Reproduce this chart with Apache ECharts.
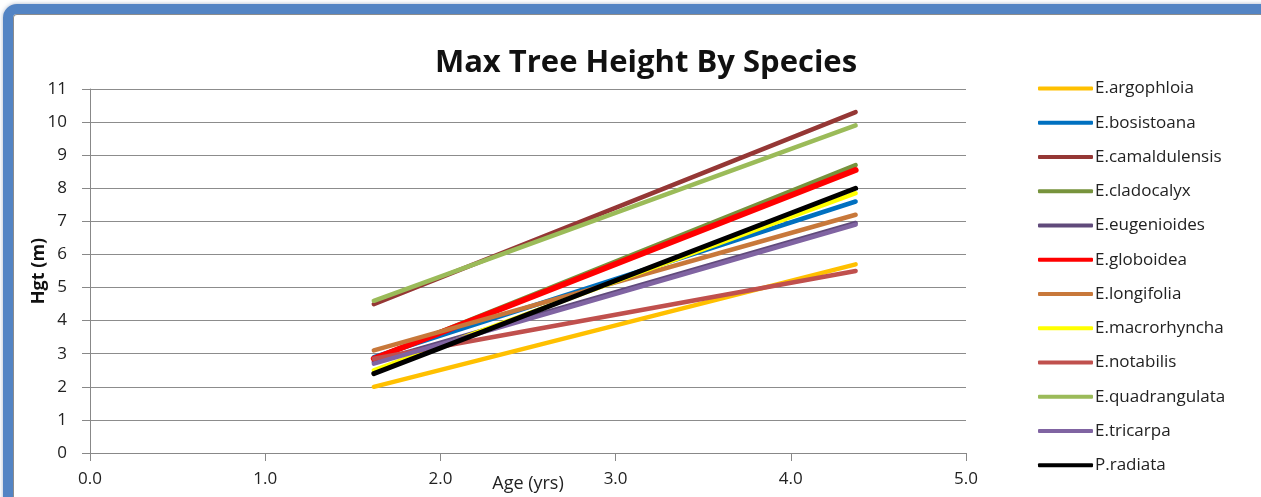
<!DOCTYPE html>
<html>
<head>
<meta charset="utf-8">
<script src="https://cdn.jsdelivr.net/npm/echarts@6/dist/echarts.min.js"></script>
<style>
  html, body { margin: 0; padding: 0; background: #ffffff; overflow: hidden; }
  #frame {
    position: absolute; left: 3px; top: 4px; width: 1320px; height: 620px;
    border: 10px solid #5384c4; border-radius: 14px; background: #ffffff;
    box-shadow: inset 0 0 0 1px #8c8c8c, 0 0 4px rgba(60,90,140,0.45);
  }
  #chart { position: absolute; left: 0; top: 0; width: 1261px; height: 497px; }
</style>
</head>
<body>
<div id="frame"></div>
<div id="chart"></div>
<script>
// Ages (years) at which maximum height was measured
const ages = [1.62, 4.37];

// Maximum tree height (m) per species at each age
const species = [
  'E.argophloia', 'E.bosistoana', 'E.camaldulensis', 'E.cladocalyx',
  'E.eugenioides', 'E.globoidea', 'E.longifolia', 'E.macrorhyncha',
  'E.notabilis', 'E.quadrangulata', 'E.tricarpa', 'P.radiata'
];
const argophloia    = [2.0, 5.7];
const bosistoana    = [2.9, 7.6];
const camaldulensis = [4.5, 10.3];
const cladocalyx    = [2.85, 8.7];
const eugenioides   = [2.75, 6.95];
const globoidea     = [2.85, 8.55];
const longifolia    = [3.1, 7.2];
const macrorhyncha  = [2.5, 7.85];
const notabilis     = [2.85, 5.5];
const quadrangulata = [4.6, 9.9];
const tricarpa      = [2.7, 6.9];
const radiata       = [2.4, 8.0];

const heights = [argophloia, bosistoana, camaldulensis, cladocalyx, eugenioides,
  globoidea, longifolia, macrorhyncha, notabilis, quadrangulata, tricarpa, radiata];

const colors = ['#FFC000', '#0070C0', '#953735', '#77933C', '#604A7B', '#FF0000',
  '#C8783A', '#FFFF00', '#C0504D', '#9BBB59', '#8064A2', '#000000'];
const widths = [4.5, 4.5, 4.5, 4.5, 4.5, 6, 4.5, 4.5, 4.5, 4.5, 4.5, 5];

const xTicks = ['0.0', '1.0', '2.0', '3.0', '4.0', '5.0'];

const font = "'Open Sans', 'Noto Sans', sans-serif";

const chart = echarts.init(document.getElementById('chart'), null, { renderer: 'canvas' });

chart.setOption({
  backgroundColor: 'transparent',
  animation: false,
  color: colors,
  title: {
    text: 'Max Tree Height By Species',
    left: 641, top: 43, textAlign: 'center',
    textStyle: { fontFamily: font, fontWeight: 'bold', fontSize: 31, color: '#111' }
  },
  legend: {
    orient: 'vertical',
    left: 1033, top: 75,
    itemWidth: 55, itemHeight: 4, itemGap: 17.25,
    icon: 'roundRect',
    textStyle: { fontFamily: font, fontSize: 17, color: '#222', padding: [0, 0, 0, -3] },
    data: species
  },
  grid: { left: 90, right: 295, top: 89, bottom: 44, outerBoundsMode: 'none' },
  xAxis: {
    type: 'value', min: 0, max: 5, interval: 1,
    name: 'Age (yrs)', nameLocation: 'middle', nameGap: 22, nameMoveOverlap: false,
    nameTextStyle: { fontFamily: font, fontSize: 18, color: '#222' },
    axisLine: { show: true, onZero: false, lineStyle: { color: '#888', width: 1 } },
    axisTick: { show: true, inside: false, length: 8, lineStyle: { color: '#888' } },
    axisLabel: {
      fontFamily: font, fontSize: 17, color: '#222', margin: 18,
      formatter: v => xTicks[Math.round(v)]
    },
    splitLine: { show: false }
  },
  yAxis: {
    type: 'value', min: 0, max: 11, interval: 1,
    name: 'Hgt (m)', nameLocation: 'middle', nameGap: 42, nameRotate: 90, nameMoveOverlap: false,
    nameTextStyle: { fontFamily: font, fontSize: 18, fontWeight: 'bold', color: '#111' },
    axisLine: { show: true, lineStyle: { color: '#888', width: 1 } },
    axisTick: { show: true, length: 8, lineStyle: { color: '#888' } },
    axisLabel: { fontFamily: font, fontSize: 17, color: '#222', margin: 23 },
    splitLine: { show: true, lineStyle: { color: '#8c8c8c', width: 1 } }
  },
  series: species.map((name, i) => ({
    name,
    type: 'line',
    data: ages.map((a, j) => [a, heights[i][j]]),
    symbol: 'none',
    lineStyle: { color: colors[i], width: widths[i], cap: 'round' },
    itemStyle: { color: colors[i] },
    z: 2 + i
  }))
});
</script>
</body>
</html>
